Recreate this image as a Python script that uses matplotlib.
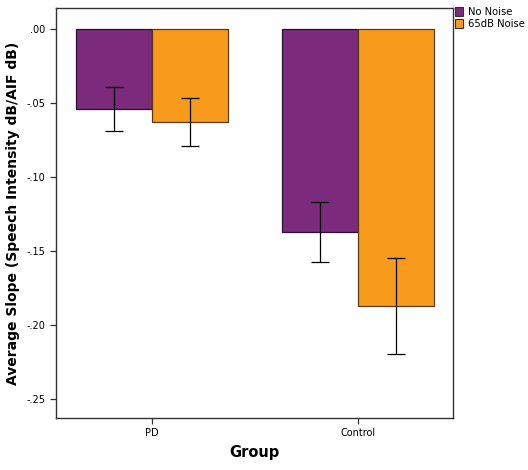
import numpy as np
import matplotlib
matplotlib.use("Agg")
import matplotlib.pyplot as plt
from matplotlib.patches import Patch

# data
groups = ["PD", "Control"]
no_noise_mean = [-0.054, -0.137]
no_noise_err = [0.0146, 0.0204]
noise_mean = [-0.063, -0.187]
noise_err = [0.0162, 0.0325]
series_names = ["No Noise", "65dB Noise"]
yticks = [0.0, -0.05, -0.10, -0.15, -0.20, -0.25]
ytick_labels = [".00", "-.05", "-.10", "-.15", "-.20", "-.25"]

purple = "#7B2A7C"
orange = "#F89B1C"

plt.rcParams.update({
    "font.family": "DejaVu Sans",
    "font.size": 7,
})

fig = plt.figure(figsize=(5.28, 4.70), dpi=100)
ax = fig.add_axes([56 / 528, 1 - 418 / 470, (453 - 56) / 528, (418 - 8) / 470])

x = np.arange(len(groups))
w = 0.369
ax.bar(x - w / 2, no_noise_mean, w, color=purple, edgecolor="#2a1030", linewidth=0.9)
ax.bar(x + w / 2, noise_mean, w, color=orange, edgecolor="#5a3a10", linewidth=0.9)
ax.errorbar(x - w / 2, no_noise_mean, yerr=no_noise_err, fmt="none",
            ecolor="black", elinewidth=0.9, capsize=6.8, capthick=0.9)
ax.errorbar(x + w / 2, noise_mean, yerr=noise_err, fmt="none",
            ecolor="black", elinewidth=0.9, capsize=6.8, capthick=0.9)

ax.set_xlim(-0.466, 1.461)
ax.set_ylim(-0.263, 0.0143)
ax.set_yticks(yticks)
ax.set_yticklabels(ytick_labels, fontsize=7)
ax.set_xticks(x)
ax.set_xticklabels(groups, fontsize=7)
ax.tick_params(axis="both", direction="out", length=4, width=0.9, color="#333333")
for s in ax.spines.values():
    s.set_linewidth(1.0)
    s.set_color("#333333")

ax.set_xlabel("Group", fontsize=10.5, fontweight="bold", labelpad=5)
ax.set_ylabel("Average Slope (Speech Intensity dB/AIF dB)", fontsize=10,
              fontweight="bold", labelpad=5)

handles = [Patch(facecolor=purple, edgecolor="#333333", linewidth=0.8),
           Patch(facecolor=orange, edgecolor="#333333", linewidth=0.8)]
fig.legend(handles, series_names, loc="upper left",
           bbox_to_anchor=(455 / 528, 1 - 7 / 470), frameon=False,
           fontsize=7.2, handlelength=0.8, handleheight=0.9,
           handletextpad=0.45, labelspacing=0.2, borderaxespad=0, borderpad=0)

fig.savefig("out.png", dpi=100)
